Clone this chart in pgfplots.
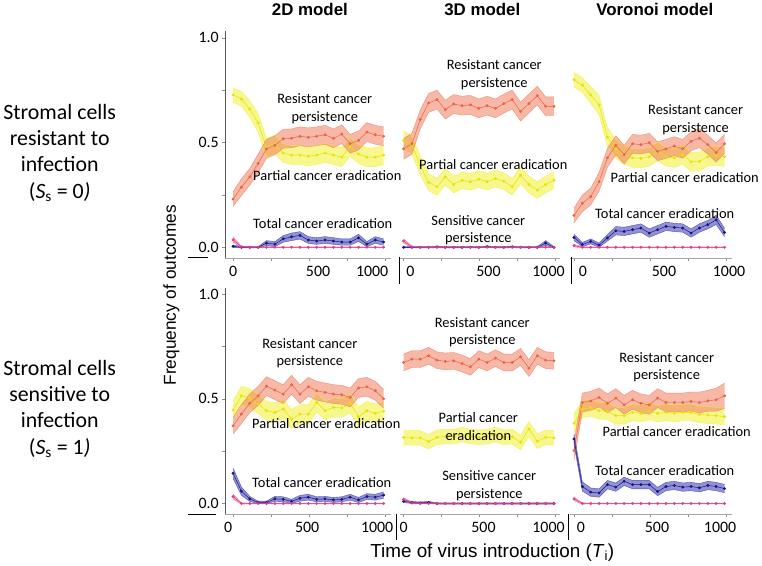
\documentclass[border=0pt]{standalone}
\usepackage{fontspec}
\setmainfont{Carlito}
\newfontfamily\titlefont{Liberation Sans}
\usepackage{pgfplots}
\pgfplotsset{compat=1.18}
\usepgfplotslibrary{fillbetween}
\usepackage{pgfplotstable}

\definecolor{orL}{RGB}{232,100,66}
\definecolor{orB}{RGB}{240,125,95}
\definecolor{yeL}{RGB}{228,228,0}
\definecolor{yeB}{RGB}{240,240,50}
\definecolor{blL}{RGB}{20,20,135}
\definecolor{blB}{RGB}{55,55,175}
\definecolor{piL}{RGB}{228,60,128}
\definecolor{piB}{RGB}{235,95,155}

% T r re p pe t te s se  (r: resistant persistence, p: partial eradication, t: total eradication, s: sensitive persistence)
\pgfplotstableread{
T r re p pe t te s se
0 0.230 0.035 0.727 0.035 0.005 0.006 0.036 0.012
55 0.287 0.040 0.708 0.035 0.000 0.003 0.002 0.004
110 0.336 0.040 0.660 0.040 0.000 0.003 0.000 0.002
165 0.400 0.045 0.594 0.045 0.000 0.003 0.000 0.002
220 0.470 0.045 0.475 0.045 0.020 0.012 0.000 0.002
275 0.487 0.045 0.490 0.045 0.015 0.012 0.000 0.002
330 0.518 0.045 0.450 0.045 0.040 0.016 0.000 0.002
385 0.520 0.045 0.440 0.045 0.050 0.018 0.000 0.002
440 0.530 0.045 0.440 0.045 0.057 0.018 0.000 0.002
495 0.525 0.045 0.435 0.045 0.035 0.016 0.000 0.002
550 0.530 0.045 0.440 0.045 0.030 0.016 0.000 0.002
605 0.537 0.045 0.450 0.045 0.035 0.016 0.000 0.002
660 0.520 0.045 0.440 0.045 0.030 0.016 0.000 0.002
715 0.540 0.045 0.430 0.045 0.025 0.015 0.000 0.002
770 0.494 0.045 0.480 0.045 0.025 0.015 0.000 0.002
825 0.510 0.045 0.445 0.045 0.045 0.017 0.000 0.002
880 0.550 0.045 0.430 0.045 0.015 0.012 0.000 0.002
935 0.537 0.045 0.430 0.045 0.035 0.016 0.000 0.002
990 0.530 0.045 0.440 0.045 0.025 0.015 0.000 0.002
}\tabA

\pgfplotstableread{
T r re p pe t te s se
0 0.470 0.050 0.510 0.045 0.000 0.003 0.030 0.010
55 0.494 0.050 0.490 0.045 0.000 0.003 0.002 0.004
110 0.610 0.045 0.390 0.045 0.000 0.003 0.000 0.002
165 0.689 0.045 0.310 0.040 0.000 0.003 0.000 0.002
220 0.705 0.045 0.289 0.040 0.002 0.004 0.000 0.002
275 0.657 0.045 0.336 0.040 0.000 0.003 0.000 0.002
330 0.684 0.045 0.300 0.040 0.000 0.003 0.000 0.002
385 0.676 0.045 0.320 0.040 0.000 0.003 0.000 0.002
440 0.680 0.045 0.313 0.040 0.000 0.003 0.000 0.002
495 0.663 0.045 0.325 0.040 0.000 0.003 0.000 0.002
550 0.676 0.045 0.313 0.040 0.003 0.004 0.000 0.002
605 0.663 0.045 0.328 0.040 0.000 0.003 0.000 0.002
660 0.686 0.045 0.316 0.040 0.000 0.003 0.000 0.002
715 0.705 0.045 0.289 0.040 0.002 0.004 0.000 0.002
770 0.648 0.045 0.344 0.040 0.000 0.003 0.000 0.002
825 0.686 0.045 0.300 0.040 0.000 0.003 0.000 0.002
880 0.724 0.045 0.273 0.040 0.000 0.003 0.000 0.002
935 0.673 0.045 0.300 0.040 0.020 0.012 0.000 0.002
990 0.673 0.045 0.320 0.040 0.000 0.003 0.000 0.002
}\tabB

\pgfplotstableread{
T r re p pe t te s se
0 0.152 0.035 0.800 0.035 0.047 0.015 0.008 0.006
55 0.210 0.040 0.774 0.035 0.013 0.010 0.000 0.003
110 0.242 0.040 0.727 0.040 0.028 0.012 0.000 0.002
165 0.313 0.045 0.680 0.045 0.010 0.010 0.000 0.002
220 0.427 0.045 0.526 0.045 0.045 0.015 0.000 0.002
275 0.487 0.045 0.470 0.045 0.079 0.020 0.000 0.002
330 0.442 0.045 0.442 0.045 0.076 0.020 0.000 0.002
385 0.494 0.045 0.427 0.045 0.084 0.020 0.000 0.002
440 0.490 0.045 0.424 0.045 0.092 0.020 0.000 0.002
495 0.499 0.045 0.432 0.045 0.068 0.020 0.000 0.002
550 0.458 0.045 0.458 0.045 0.084 0.020 0.000 0.002
605 0.470 0.045 0.432 0.045 0.100 0.020 0.000 0.002
660 0.483 0.045 0.427 0.045 0.095 0.020 0.000 0.002
715 0.470 0.045 0.442 0.045 0.092 0.020 0.000 0.002
770 0.506 0.045 0.408 0.045 0.068 0.020 0.000 0.002
825 0.521 0.045 0.410 0.045 0.092 0.020 0.000 0.002
880 0.490 0.045 0.432 0.045 0.108 0.020 0.000 0.002
935 0.452 0.045 0.437 0.045 0.131 0.022 0.000 0.002
990 0.494 0.045 0.432 0.045 0.071 0.020 0.000 0.002
}\tabC

\pgfplotstableread{
T r re p pe t te s se
0 0.371 0.040 0.446 0.045 0.144 0.025 0.033 0.012
55 0.427 0.045 0.514 0.045 0.059 0.020 0.000 0.003
110 0.478 0.045 0.503 0.045 0.022 0.012 0.000 0.002
165 0.514 0.045 0.475 0.045 0.005 0.006 0.000 0.002
220 0.560 0.045 0.443 0.045 0.005 0.006 0.000 0.002
275 0.541 0.045 0.435 0.045 0.022 0.012 0.000 0.002
330 0.522 0.045 0.451 0.045 0.020 0.012 0.000 0.002
385 0.567 0.045 0.403 0.045 0.010 0.010 0.000 0.002
440 0.522 0.045 0.427 0.045 0.025 0.014 0.000 0.002
495 0.557 0.045 0.427 0.045 0.030 0.014 0.000 0.002
550 0.538 0.045 0.482 0.045 0.020 0.012 0.000 0.002
605 0.530 0.045 0.443 0.045 0.022 0.012 0.000 0.002
660 0.522 0.045 0.459 0.045 0.017 0.012 0.000 0.002
715 0.519 0.045 0.456 0.045 0.020 0.012 0.000 0.002
770 0.506 0.045 0.478 0.045 0.030 0.014 0.000 0.002
825 0.551 0.045 0.414 0.045 0.017 0.012 0.000 0.002
880 0.557 0.045 0.443 0.045 0.033 0.014 0.000 0.002
935 0.538 0.045 0.430 0.045 0.030 0.014 0.000 0.002
990 0.500 0.045 0.440 0.045 0.040 0.015 0.000 0.002
}\tabD

\pgfplotstableread{
T r re p pe t te s se
0 0.673 0.040 0.316 0.035 0.010 0.006 0.020 0.008
55 0.689 0.040 0.313 0.035 0.005 0.005 0.002 0.004
110 0.689 0.040 0.313 0.035 0.003 0.004 0.000 0.002
165 0.705 0.040 0.295 0.035 0.005 0.005 0.000 0.002
220 0.684 0.040 0.316 0.035 0.000 0.003 0.000 0.002
275 0.678 0.040 0.319 0.035 0.000 0.003 0.000 0.002
330 0.681 0.040 0.319 0.035 0.000 0.003 0.000 0.002
385 0.668 0.040 0.329 0.035 0.000 0.003 0.000 0.002
440 0.652 0.040 0.320 0.035 0.000 0.003 0.000 0.002
495 0.689 0.040 0.316 0.035 0.000 0.003 0.000 0.002
550 0.673 0.040 0.319 0.035 0.000 0.003 0.000 0.002
605 0.694 0.040 0.329 0.035 0.000 0.003 0.000 0.002
660 0.673 0.040 0.316 0.035 0.000 0.003 0.000 0.002
715 0.673 0.040 0.319 0.035 0.000 0.003 0.000 0.002
770 0.700 0.040 0.292 0.035 0.000 0.003 0.000 0.002
825 0.646 0.040 0.356 0.035 0.000 0.003 0.000 0.002
880 0.705 0.040 0.297 0.035 0.000 0.003 0.000 0.002
935 0.684 0.040 0.316 0.035 0.000 0.003 0.000 0.002
990 0.681 0.040 0.313 0.035 0.000 0.003 0.000 0.002
}\tabE

\pgfplotstableread{
T r re p pe t te s se
0 0.252 0.045 0.383 0.045 0.308 0.025 0.022 0.008
55 0.482 0.045 0.451 0.040 0.081 0.022 0.000 0.003
110 0.490 0.045 0.456 0.040 0.054 0.020 0.000 0.002
165 0.506 0.045 0.443 0.040 0.050 0.020 0.000 0.002
220 0.478 0.045 0.440 0.040 0.090 0.020 0.000 0.002
275 0.503 0.045 0.419 0.040 0.078 0.020 0.000 0.002
330 0.471 0.045 0.419 0.040 0.106 0.020 0.000 0.002
385 0.495 0.045 0.435 0.040 0.090 0.020 0.000 0.002
440 0.478 0.045 0.430 0.040 0.090 0.020 0.000 0.002
495 0.471 0.045 0.440 0.040 0.090 0.020 0.000 0.002
550 0.503 0.045 0.430 0.040 0.057 0.020 0.000 0.002
605 0.482 0.045 0.435 0.040 0.081 0.020 0.000 0.002
660 0.482 0.045 0.430 0.040 0.086 0.020 0.000 0.002
715 0.482 0.045 0.435 0.040 0.078 0.020 0.000 0.002
770 0.487 0.045 0.435 0.040 0.081 0.020 0.000 0.002
825 0.482 0.050 0.425 0.040 0.075 0.020 0.000 0.002
880 0.490 0.050 0.422 0.040 0.086 0.020 0.000 0.002
935 0.495 0.055 0.419 0.040 0.081 0.020 0.000 0.002
990 0.514 0.060 0.414 0.040 0.071 0.020 0.000 0.002
}\tabF

\newcommand{\series}[5]{%
  \addplot[name path=#2u, draw=#5, draw opacity=0.8, line width=0.4pt, forget plot] table[x=T, y expr=\thisrow{#2}+\thisrow{#3}] {#1};
  \addplot[name path=#2l, draw=#5, draw opacity=0.8, line width=0.4pt, forget plot] table[x=T, y expr=\thisrow{#2}-\thisrow{#3}] {#1};
  \addplot[fill=#5, fill opacity=0.55, draw=none, forget plot] fill between[of=#2u and #2l];
  \addplot[#4, line width=0.5pt, mark=*, mark size=1.2pt, mark options={draw=#4, fill=#4}, forget plot] table[x=T, y=#2] {#1};
}
\newcommand{\panel}[1]{%
  \series{#1}{p}{pe}{yeL}{yeB}
  \series{#1}{r}{re}{orL}{orB}
  \series{#1}{t}{te}{blL}{blB}
  \series{#1}{s}{se}{piL}{piB}
}
% shift a tick label horizontally by #1 bp
\newcommand{\sh}[2]{\makebox[0pt]{\hspace*{#1bp}\hspace*{#1bp}#2}}

\pgfplotsset{
  panel/.style={scale only axis, height=227bp, ymin=-0.05, ymax=1.03, anchor=south west,
    axis x line*=bottom, axis y line*=left,
    x axis line style={black!35, -}, y axis line style={black!65, -},
    xtick={0,500,1000}, minor xtick={250,750},
    ytick={0,0.5,1}, yticklabels={0.0,0.5,1.0}, minor ytick={0.25,0.75},
    tick align=outside, major tick length=3bp, minor tick length=3bp,
    tick style={black!45, line width=0.4pt},
    tick label style={font=\fontsize{16}{16}\selectfont, text=black},
    /pgf/number format/assume math mode=true,
    xticklabel style={yshift=-2bp}},
  noy/.style={axis y line=none, ytick=\empty, minor ytick=\empty},
}
\newcommand{\lab}{\fontsize{14.5}{17.5}\selectfont}

\begin{document}
\begin{tikzpicture}[x=1bp,y=1bp]

% top row
\begin{axis}[panel, at={(224bp,-256.5bp)}, width=166bp, xmin=-52, xmax=1036,
  xticklabels={0,\sh{9}{500},\sh{-13}{1000}}]
\panel{\tabA}
\end{axis}
\begin{axis}[panel, noy, at={(399bp,-256.5bp)}, width=161bp, xmin=-26, xmax=1030,
  xticklabels={\sh{7}{0},\sh{9}{500},\sh{-7}{1000}}]
\panel{\tabB}
\end{axis}
\begin{axis}[panel, noy, at={(570bp,-256.5bp)}, width=162bp, xmin=-26, xmax=1036,
  xticklabels={\sh{9}{0},\sh{14}{500},\sh{3}{1000}}]
\panel{\tabC}
\end{axis}

% bottom row
\begin{axis}[panel, at={(224bp,-513.5bp)}, width=166bp, xmin=-52, xmax=1036,
  xticklabels={\sh{-5}{0},\sh{-2}{500},\sh{-8}{1000}}]
\panel{\tabD}
\end{axis}
\begin{axis}[panel, noy, at={(399bp,-513.5bp)}, width=161bp, xmin=-26, xmax=1030,
  xticklabels={0,\sh{4}{500},\sh{-7}{1000}}]
\panel{\tabE}
\end{axis}
\begin{axis}[panel, noy, at={(570bp,-513.5bp)}, width=162bp, xmin=-26, xmax=1036,
  xticklabels={\sh{7}{0},\sh{7}{500},\sh{-6}{1000}}]
\panel{\tabF}
\end{axis}

% decorative axis strokes
\draw[black, line width=0.8pt] (187,-256.5) -- (207,-256.5);
\draw[black, line width=0.8pt] (187,-513.5) -- (215,-513.5);
\draw[black, line width=0.8pt] (399,-256) -- (399,-283);
\draw[black, line width=0.8pt] (571,-256) -- (571,-283);
\draw[black, line width=0.8pt] (396,-514) -- (396,-540);
\draw[black, line width=0.8pt] (568,-514) -- (568,-540);

% column titles
\node[font=\titlefont\bfseries\fontsize{17}{17}\selectfont, anchor=base] at (309,-13.5) {2D model};
\node[font=\titlefont\bfseries\fontsize{17}{17}\selectfont, anchor=base] at (482,-13.5) {3D model};
\node[font=\titlefont\bfseries\fontsize{17}{17}\selectfont, anchor=base] at (655,-13.5) {Voronoi model};

% row labels
\node[align=center, font=\fontsize{22}{26.5}\selectfont] at (58,-151) {Stromal cells\\resistant to\\infection\\(\textit{S}\textsubscript{s} = 0\textit{)}};
\node[align=center, font=\fontsize{22}{26.5}\selectfont] at (58,-408) {Stromal cells\\sensitive to\\infection\\(\textit{S}\textsubscript{s} = 1\textit{)}};

% axis titles
\node[rotate=90, font=\titlefont\fontsize{17.4}{17.4}\selectfont] at (170,-294) {Frequency of outcomes};
\node[font=\titlefont\fontsize{19}{19}\selectfont, anchor=base] at (492,-557) {Time of virus introduction (\textit{T}\textsubscript{i})};

% in-panel labels, top row
\node[align=center, font=\lab] at (324,-107) {Resistant cancer\\persistence};
\node[anchor=west, inner sep=0pt, font=\lab] at (252,-174) {Partial cancer eradication};
\node[anchor=west, inner sep=0pt, font=\lab] at (252,-222) {Total cancer eradication};
\node[align=center, font=\lab] at (494,-73) {Resistant cancer\\persistence};
\node[font=\lab] at (493,-163) {Partial cancer eradication};
\node[align=center, font=\lab] at (478,-229) {Sensitive cancer\\persistence};
\node[align=center, font=\lab] at (696,-118) {Resistant cancer\\persistence};
\node[font=\lab] at (685,-176) {Partial cancer eradication};
\node[font=\lab] at (665,-212) {Total cancer eradication};

% in-panel labels, bottom row
\node[align=center, font=\lab] at (309,-352) {Resistant cancer\\persistence};
\node[anchor=west, inner sep=0pt, font=\lab] at (251,-423) {Partial cancer eradication};
\node[anchor=west, inner sep=0pt, font=\lab] at (251,-482) {Total cancer eradication};
\node[align=center, font=\lab] at (482,-331) {Resistant cancer\\persistence};
\node[align=center, font=\lab] at (478,-426) {Partial cancer\\eradication};
\node[align=center, font=\lab] at (489,-485) {Sensitive cancer\\persistence};
\node[align=center, font=\lab] at (667,-366) {Resistant cancer\\persistence};
\node[font=\lab] at (677,-431) {Partial cancer eradication};
\node[font=\lab] at (665,-470) {Total cancer eradication};

% page frame (invisible)
\path (0,0) rectangle (762,-565);
\end{tikzpicture}
\end{document}
